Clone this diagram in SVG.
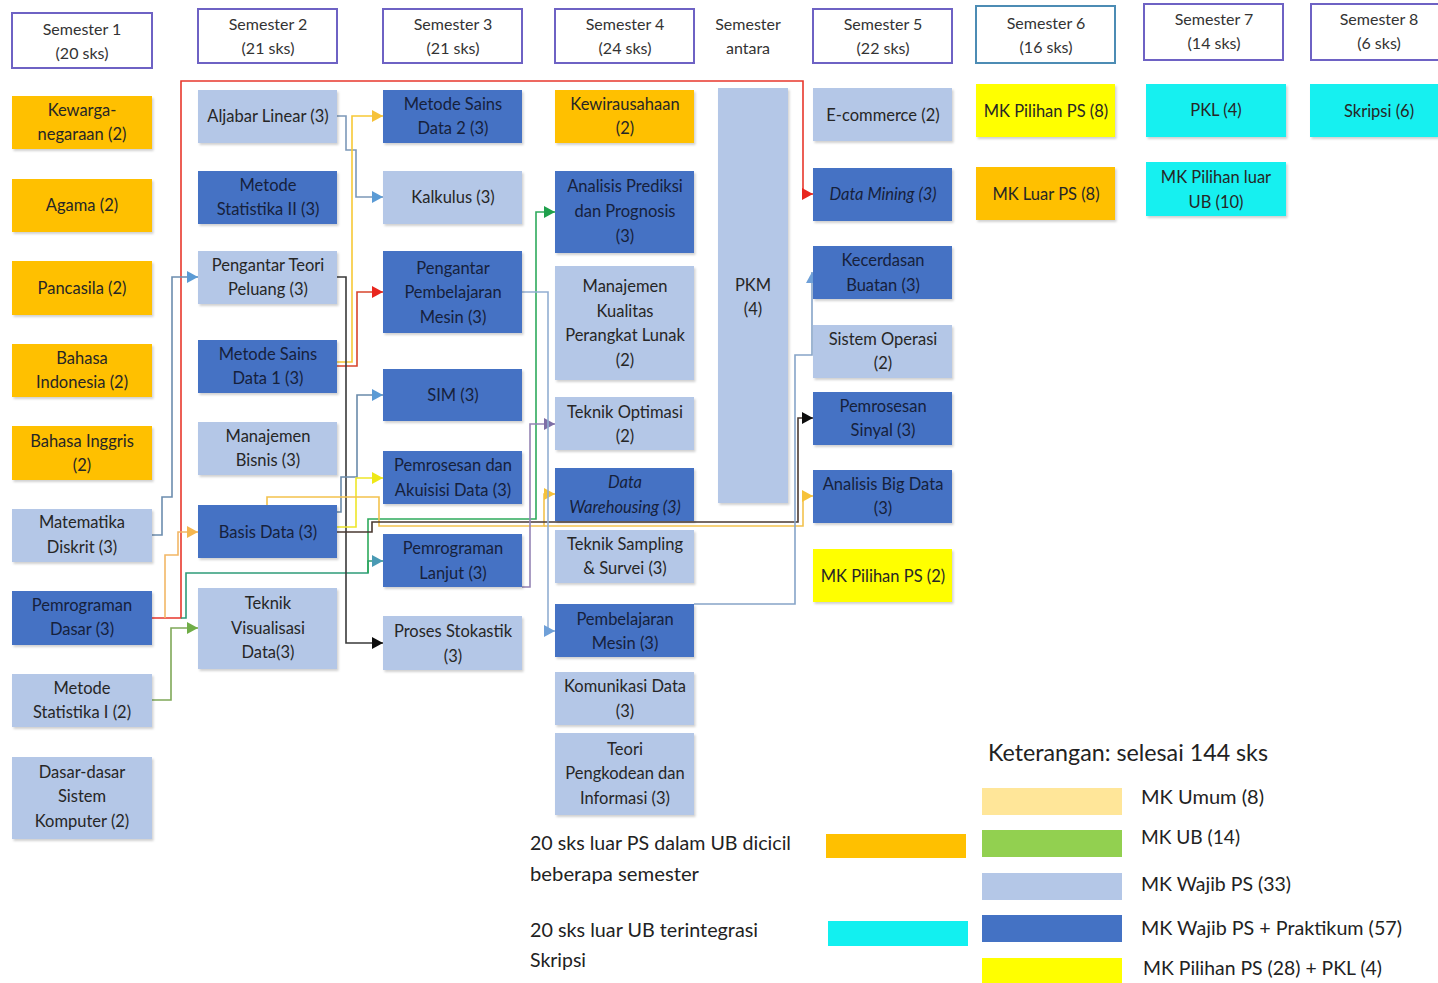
<svg xmlns="http://www.w3.org/2000/svg" width="1438" height="983" viewBox="0 0 1438 983">
  <style>
    text { font-family: Lato, "Open Sans", "Liberation Sans", sans-serif; font-size: 16.5px; text-anchor: middle; fill: #262626; }
    .hdr rect { fill: #ffffff; stroke: #6E62C4; stroke-width: 2; }
    .hdr text { font-size: 16px; fill: #333; }
    .plain text { font-size: 16px; fill: #333; }
    .umum { fill: #FFC000; }
    .wajib { fill: #B4C7E7; }
    .prak { fill: #4472C4; }
    .pil { fill: #FFFF00; }
    .luar { fill: #12F0F0; }
    .dk text { fill: #16213C; }
    .it { font-style: italic; }
    .node rect { filter: url(#sh); }
    .leg { text-anchor: start; font-size: 20px; fill: #222; }
    .conn path { fill: none; stroke-width: 1.6; stroke-linejoin: miter; }
  </style>
  <defs>
    <filter id="sh" x="-10%" y="-10%" width="130%" height="130%">
      <feDropShadow dx="1.5" dy="2" stdDeviation="1.2" flood-color="#000" flood-opacity="0.18"/>
    </filter>
    <marker id="a-red" viewBox="0 0 10 10" refX="10" refY="5" markerWidth="11" markerHeight="12" markerUnits="userSpaceOnUse" orient="auto" preserveAspectRatio="none"><path d="M0,0L10,5L0,10z" fill="#E8261E"/></marker>
    <marker id="a-gold" viewBox="0 0 10 10" refX="10" refY="5" markerWidth="11" markerHeight="12" markerUnits="userSpaceOnUse" orient="auto" preserveAspectRatio="none"><path d="M0,0L10,5L0,10z" fill="#F6C23A"/></marker>
    <marker id="a-yel" viewBox="0 0 10 10" refX="10" refY="5" markerWidth="11" markerHeight="12" markerUnits="userSpaceOnUse" orient="auto" preserveAspectRatio="none"><path d="M0,0L10,5L0,10z" fill="#EEE817"/></marker>
    <marker id="a-steel" viewBox="0 0 10 10" refX="10" refY="5" markerWidth="11" markerHeight="12" markerUnits="userSpaceOnUse" orient="auto" preserveAspectRatio="none"><path d="M0,0L10,5L0,10z" fill="#5B9BD5"/></marker>
    <marker id="a-blk" viewBox="0 0 10 10" refX="10" refY="5" markerWidth="11" markerHeight="12" markerUnits="userSpaceOnUse" orient="auto" preserveAspectRatio="none"><path d="M0,0L10,5L0,10z" fill="#0d0d0d"/></marker>
    <marker id="a-grn" viewBox="0 0 10 10" refX="10" refY="5" markerWidth="11" markerHeight="12" markerUnits="userSpaceOnUse" orient="auto" preserveAspectRatio="none"><path d="M0,0L10,5L0,10z" fill="#1FA04C"/></marker>
    <marker id="a-teal" viewBox="0 0 10 10" refX="10" refY="5" markerWidth="11" markerHeight="12" markerUnits="userSpaceOnUse" orient="auto" preserveAspectRatio="none"><path d="M0,0L10,5L0,10z" fill="#4A9AB4"/></marker>
    <marker id="a-olv" viewBox="0 0 10 10" refX="10" refY="5" markerWidth="11" markerHeight="12" markerUnits="userSpaceOnUse" orient="auto" preserveAspectRatio="none"><path d="M0,0L10,5L0,10z" fill="#70AD47"/></marker>
    <marker id="a-pur" viewBox="0 0 10 10" refX="10" refY="5" markerWidth="11" markerHeight="12" markerUnits="userSpaceOnUse" orient="auto" preserveAspectRatio="none"><path d="M0,0L10,5L0,10z" fill="#7E6FA6"/></marker>
    <marker id="a-tan" viewBox="0 0 10 10" refX="10" refY="5" markerWidth="11" markerHeight="12" markerUnits="userSpaceOnUse" orient="auto" preserveAspectRatio="none"><path d="M0,0L10,5L0,10z" fill="#F4B650"/></marker>
    <marker id="a-sky" viewBox="0 0 10 10" refX="10" refY="5" markerWidth="11" markerHeight="12" markerUnits="userSpaceOnUse" orient="auto" preserveAspectRatio="none"><path d="M0,0L10,5L0,10z" fill="#6FA0D8"/></marker>
  </defs>

  <rect width="1438" height="983" fill="#ffffff"/>

  <!-- semester headers -->
  <g id="sem1" class="hdr"><rect x="12" y="13" width="140" height="55"/><text x="82" y="35">Semester 1</text><text x="82" y="59">(20 sks)</text></g>
  <g id="sem2" class="hdr"><rect x="198" y="9" width="139" height="54"/><text x="268" y="30">Semester 2</text><text x="268" y="54">(21 sks)</text></g>
  <g id="sem3" class="hdr"><rect x="383" y="9" width="139" height="54"/><text x="453" y="30">Semester 3</text><text x="453" y="54">(21 sks)</text></g>
  <g id="sem4" class="hdr"><rect x="555" y="9" width="139" height="54"/><text x="625" y="30">Semester 4</text><text x="625" y="54">(24 sks)</text></g>
  <g id="sem-antara" class="plain"><text x="748" y="30">Semester</text><text x="748" y="54">antara</text></g>
  <g id="sem5" class="hdr"><rect x="813" y="9" width="139" height="54"/><text x="883" y="30">Semester 5</text><text x="883" y="54">(22 sks)</text></g>
  <g id="sem6" class="hdr"><rect x="976" y="6" width="139" height="57" style="stroke:#4C8CB4"/><text x="1046" y="29">Semester 6</text><text x="1046" y="53">(16 sks)</text></g>
  <g id="sem7" class="hdr"><rect x="1144" y="4" width="139" height="56"/><text x="1214" y="25">Semester 7</text><text x="1214" y="49">(14 sks)</text></g>
  <g id="sem8" class="hdr"><rect x="1311" y="4" width="140" height="56"/><text x="1379" y="25">Semester 8</text><text x="1379" y="49">(6 sks)</text></g>

  <!-- connectors -->
  <g id="connectors" class="conn">
    <!-- Pemrograman Dasar -> Data Mining -->
    <path d="M152,618 H181 V81 H803 V194 H813" stroke="#E8372C" marker-end="url(#a-red)"/>
    <!-- Pemrograman Dasar -> Basis Data -->
    <path d="M165,618 V555 H178 V532 H198" stroke="#F2B766" marker-end="url(#a-tan)"/>
    <!-- Pemrograman Dasar -> Pemrograman Lanjut / Analisis Prediksi -->
    <path d="M181,618 H186 V573 H368 V561 H383" stroke="#2E9C78" marker-end="url(#a-teal)"/>
    <path d="M368,573 V519 H536 V212 H555" stroke="#2EAA5C" marker-end="url(#a-grn)"/>
    <!-- Metode Statistika I -> Teknik Visualisasi Data -->
    <path d="M152,700 H171 V628 H198" stroke="#7FA858" marker-end="url(#a-olv)"/>
    <!-- Matematika Diskrit -> Pengantar Teori Peluang -->
    <path d="M152,535 H162 V497 H172 V277 H198" stroke="#6C8DAE" marker-end="url(#a-steel)"/>
    <!-- Aljabar Linear -> Kalkulus -->
    <path d="M337,116 H346 V150 H356 V197 H383" stroke="#7C98B8" marker-end="url(#a-steel)"/>
    <!-- Metode Sains Data 1 -> Metode Sains Data 2 -->
    <path d="M337,362 H352 V116 H383" stroke="#F7C936" marker-end="url(#a-gold)"/>
    <!-- Metode Sains Data 1 -> Pengantar Pembelajaran Mesin -->
    <path d="M337,366 H357 V292 H383" stroke="#D8452C" marker-end="url(#a-red)"/>
    <!-- Pengantar Teori Peluang -> Proses Stokastik -->
    <path d="M337,277 H346 V643 H383" stroke="#3A3A3A" marker-end="url(#a-blk)"/>
    <!-- Basis Data -> SIM -->
    <path d="M337,512 H341 V477 H357 V395 H383" stroke="#6A8AAA" marker-end="url(#a-steel)"/>
    <!-- Basis Data -> Pemrosesan dan Akuisisi Data -->
    <path d="M337,527 H356 V478 H383" stroke="#EEE62A" marker-end="url(#a-yel)"/>
    <!-- Basis Data -> Data Warehousing / Analisis Big Data -->
    <path d="M267,505 V497 H379 V526 H544 V494 H555" stroke="#F3C24E" marker-end="url(#a-gold)"/>
    <path d="M544,526 H803 V496 H813" stroke="#F3C24E" marker-end="url(#a-gold)"/>
    <!-- Basis Data -> Pemrosesan Sinyal -->
    <path d="M337,532 H372 V522 H798 V418 H813" stroke="#4A3A32" stroke-width="2" marker-end="url(#a-blk)"/>
    <!-- Pemrograman Lanjut -> Teknik Optimasi -->
    <path d="M522,587 H530 V424 H555" stroke="#9484B4" marker-end="url(#a-pur)"/>
    <!-- Pengantar Pembelajaran Mesin -> Pembelajaran Mesin -->
    <path d="M522,292 H548 V631 H555" stroke="#92AED2" marker-end="url(#a-sky)"/>
    <!-- Pembelajaran Mesin -> Kecerdasan Buatan -->
    <path d="M694,604 H795 V355 H812 V272" stroke="#86A4C8" marker-end="url(#a-sky)"/>
  </g>

  <!-- semester 1 -->
  <g id="kewarganegaraan" class="node"><rect class="umum" x="12" y="96" width="140" height="53"/><text x="82" y="116">Kewarga-</text><text x="82" y="140">negaraan (2)</text></g>
  <g id="agama" class="node"><rect class="umum" x="12" y="179" width="140" height="53"/><text x="82" y="211">Agama (2)</text></g>
  <g id="pancasila" class="node"><rect class="umum" x="12" y="261" width="140" height="54"/><text x="82" y="294">Pancasila (2)</text></g>
  <g id="bahasa-indonesia" class="node"><rect class="umum" x="12" y="344" width="140" height="53"/><text x="82" y="364">Bahasa</text><text x="82" y="388">Indonesia (2)</text></g>
  <g id="bahasa-inggris" class="node"><rect class="umum" x="12" y="426" width="140" height="54"/><text x="82" y="447">Bahasa Inggris</text><text x="82" y="471">(2)</text></g>
  <g id="matematika-diskrit" class="node"><rect class="wajib" x="12" y="509" width="140" height="53"/><text x="82" y="528">Matematika</text><text x="82" y="553">Diskrit (3)</text></g>
  <g id="pemrograman-dasar" class="node dk"><rect class="prak" x="12" y="591" width="140" height="54"/><text x="82" y="611">Pemrograman</text><text x="82" y="635">Dasar (3)</text></g>
  <g id="metode-statistika-1" class="node"><rect class="wajib" x="12" y="674" width="140" height="53"/><text x="82" y="694">Metode</text><text x="82" y="718">Statistika I (2)</text></g>
  <g id="dasar-sistem-komputer" class="node"><rect class="wajib" x="12" y="757" width="140" height="82"/><text x="82" y="778">Dasar-dasar</text><text x="82" y="802">Sistem</text><text x="82" y="827">Komputer (2)</text></g>

  <!-- semester 2 -->
  <g id="aljabar-linear" class="node"><rect class="wajib" x="198" y="90" width="139" height="53"/><text x="268" y="122">Aljabar Linear (3)</text></g>
  <g id="metode-statistika-2" class="node dk"><rect class="prak" x="198" y="171" width="139" height="53"/><text x="268" y="191">Metode</text><text x="268" y="215">Statistika II (3)</text></g>
  <g id="pengantar-teori-peluang" class="node"><rect class="wajib" x="198" y="251" width="139" height="53"/><text x="268" y="271">Pengantar Teori</text><text x="268" y="295">Peluang (3)</text></g>
  <g id="metode-sains-data-1" class="node dk"><rect class="prak" x="198" y="340" width="139" height="53"/><text x="268" y="360">Metode Sains</text><text x="268" y="384">Data 1 (3)</text></g>
  <g id="manajemen-bisnis" class="node"><rect class="wajib" x="198" y="422" width="139" height="53"/><text x="268" y="442">Manajemen</text><text x="268" y="466">Bisnis (3)</text></g>
  <g id="basis-data" class="node dk"><rect class="prak" x="198" y="505" width="139" height="53"/><text x="268" y="538">Basis Data (3)</text></g>
  <g id="teknik-visualisasi-data" class="node"><rect class="wajib" x="198" y="588" width="139" height="81"/><text x="268" y="609">Teknik</text><text x="268" y="634">Visualisasi</text><text x="268" y="658">Data(3)</text></g>

  <!-- semester 3 -->
  <g id="metode-sains-data-2" class="node dk"><rect class="prak" x="383" y="90" width="139" height="53"/><text x="453" y="110">Metode Sains</text><text x="453" y="134">Data 2 (3)</text></g>
  <g id="kalkulus" class="node"><rect class="wajib" x="383" y="171" width="139" height="53"/><text x="453" y="203">Kalkulus (3)</text></g>
  <g id="pengantar-pembelajaran-mesin" class="node dk"><rect class="prak" x="383" y="251" width="139" height="82"/><text x="453" y="274">Pengantar</text><text x="453" y="298">Pembelajaran</text><text x="453" y="323">Mesin (3)</text></g>
  <g id="sim" class="node dk"><rect class="prak" x="383" y="369" width="139" height="52"/><text x="453" y="401">SIM (3)</text></g>
  <g id="pemrosesan-akuisisi-data" class="node dk"><rect class="prak" x="383" y="451" width="139" height="53"/><text x="453" y="471">Pemrosesan dan</text><text x="453" y="496">Akuisisi Data (3)</text></g>
  <g id="pemrograman-lanjut" class="node dk"><rect class="prak" x="383" y="534" width="139" height="53"/><text x="453" y="554">Pemrograman</text><text x="453" y="579">Lanjut (3)</text></g>
  <g id="proses-stokastik" class="node"><rect class="wajib" x="383" y="616" width="139" height="54"/><text x="453" y="637">Proses Stokastik</text><text x="453" y="662">(3)</text></g>

  <!-- semester 4 -->
  <g id="kewirausahaan" class="node"><rect class="umum" x="555" y="90" width="139" height="53"/><text x="625" y="110">Kewirausahaan</text><text x="625" y="134">(2)</text></g>
  <g id="analisis-prediksi" class="node dk"><rect class="prak" x="555" y="171" width="139" height="82"/><text x="625" y="192">Analisis Prediksi</text><text x="625" y="217">dan Prognosis</text><text x="625" y="242">(3)</text></g>
  <g id="manajemen-kualitas-pl" class="node"><rect class="wajib" x="555" y="266" width="139" height="114"/><text x="625" y="292">Manajemen</text><text x="625" y="317">Kualitas</text><text x="625" y="341">Perangkat Lunak</text><text x="625" y="366">(2)</text></g>
  <g id="teknik-optimasi" class="node"><rect class="wajib" x="555" y="397" width="139" height="53"/><text x="625" y="418">Teknik Optimasi</text><text x="625" y="442">(2)</text></g>
  <g id="data-warehousing" class="node dk"><rect class="prak" x="555" y="468" width="139" height="53"/><text class="it" x="625" y="488">Data</text><text class="it" x="625" y="513">Warehousing (3)</text></g>
  <g id="teknik-sampling" class="node"><rect class="wajib" x="555" y="530" width="139" height="53"/><text x="625" y="550">Teknik Sampling</text><text x="625" y="574">&amp; Survei (3)</text></g>
  <g id="pembelajaran-mesin" class="node dk"><rect class="prak" x="555" y="604" width="139" height="53"/><text x="625" y="625">Pembelajaran</text><text x="625" y="649">Mesin (3)</text></g>
  <g id="komunikasi-data" class="node"><rect class="wajib" x="555" y="672" width="139" height="53"/><text x="625" y="692">Komunikasi Data</text><text x="625" y="717">(3)</text></g>
  <g id="teori-pengkodean" class="node"><rect class="wajib" x="555" y="733" width="139" height="82"/><text x="625" y="755">Teori</text><text x="625" y="779">Pengkodean dan</text><text x="625" y="804">Informasi (3)</text></g>

  <!-- semester antara -->
  <g id="pkm" class="node"><rect class="wajib" x="718" y="88" width="70" height="415"/><text x="753" y="291">PKM</text><text x="753" y="315">(4)</text></g>

  <!-- semester 5 -->
  <g id="e-commerce" class="node"><rect class="wajib" x="813" y="88" width="139" height="53"/><text x="883" y="121">E-commerce (2)</text></g>
  <g id="data-mining" class="node dk"><rect class="prak" x="813" y="168" width="139" height="53"/><text class="it" x="883" y="200">Data Mining (3)</text></g>
  <g id="kecerdasan-buatan" class="node dk"><rect class="prak" x="813" y="246" width="139" height="53"/><text x="883" y="266">Kecerdasan</text><text x="883" y="291">Buatan (3)</text></g>
  <g id="sistem-operasi" class="node"><rect class="wajib" x="813" y="325" width="139" height="53"/><text x="883" y="345">Sistem Operasi</text><text x="883" y="369">(2)</text></g>
  <g id="pemrosesan-sinyal" class="node dk"><rect class="prak" x="813" y="392" width="139" height="53"/><text x="883" y="412">Pemrosesan</text><text x="883" y="436">Sinyal (3)</text></g>
  <g id="analisis-big-data" class="node dk"><rect class="prak" x="813" y="470" width="139" height="53"/><text x="883" y="490">Analisis Big Data</text><text x="883" y="514">(3)</text></g>
  <g id="mk-pilihan-ps-2" class="node"><rect class="pil" x="813" y="549" width="139" height="53"/><text x="883" y="582">MK Pilihan PS (2)</text></g>

  <!-- semester 6 -->
  <g id="mk-pilihan-ps-8" class="node"><rect class="pil" x="976" y="84" width="139" height="53"/><text x="1046" y="117">MK Pilihan PS (8)</text></g>
  <g id="mk-luar-ps-8" class="node"><rect class="umum" x="976" y="167" width="139" height="53"/><text x="1046" y="200">MK Luar PS (8)</text></g>

  <!-- semester 7 -->
  <g id="pkl" class="node"><rect class="luar" x="1146" y="84" width="140" height="53"/><text x="1216" y="116">PKL (4)</text></g>
  <g id="mk-pilihan-luar-ub" class="node"><rect class="luar" x="1146" y="162" width="140" height="54"/><text x="1216" y="183">MK Pilihan luar</text><text x="1216" y="208">UB (10)</text></g>

  <!-- semester 8 -->
  <g id="skripsi" class="node"><rect class="luar" x="1310" y="84" width="128" height="53"/><text x="1379" y="117">Skripsi (6)</text></g>

  <!-- notes -->
  <g id="note-luar-ps">
    <text class="leg" x="530" y="850" textLength="261" lengthAdjust="spacingAndGlyphs">20 sks luar PS dalam UB dicicil</text>
    <text class="leg" x="530" y="881" textLength="169" lengthAdjust="spacingAndGlyphs">beberapa semester</text>
    <rect x="826" y="834" width="140" height="24" fill="#FFC000"/>
  </g>
  <g id="note-luar-ub">
    <text class="leg" x="530" y="937" textLength="228" lengthAdjust="spacingAndGlyphs">20 sks luar UB terintegrasi</text>
    <text class="leg" x="530" y="967" textLength="56" lengthAdjust="spacingAndGlyphs">Skripsi</text>
    <rect x="828" y="921" width="140" height="25" fill="#12F0F0"/>
  </g>

  <!-- legend -->
  <g id="legend">
    <text class="leg" x="988" y="761" style="font-size:24px" textLength="280" lengthAdjust="spacingAndGlyphs">Keterangan: selesai 144 sks</text>
    <rect x="982" y="788" width="140" height="27" fill="#FFE699"/>
    <text class="leg" x="1141" y="804" textLength="123" lengthAdjust="spacingAndGlyphs">MK Umum (8)</text>
    <rect x="982" y="830" width="140" height="27" fill="#92D050"/>
    <text class="leg" x="1141" y="844" textLength="99" lengthAdjust="spacingAndGlyphs">MK UB (14)</text>
    <rect x="982" y="873" width="140" height="27" fill="#B4C7E7"/>
    <text class="leg" x="1141" y="891" textLength="150" lengthAdjust="spacingAndGlyphs">MK Wajib PS (33)</text>
    <rect x="982" y="915" width="140" height="27" fill="#4472C4"/>
    <text class="leg" x="1141" y="935" textLength="261" lengthAdjust="spacingAndGlyphs">MK Wajib PS + Praktikum (57)</text>
    <rect x="982" y="958" width="140" height="25" fill="#FFFF00"/>
    <text class="leg" x="1143" y="975" textLength="239" lengthAdjust="spacingAndGlyphs">MK Pilihan PS (28) + PKL (4)</text>
  </g>
</svg>
